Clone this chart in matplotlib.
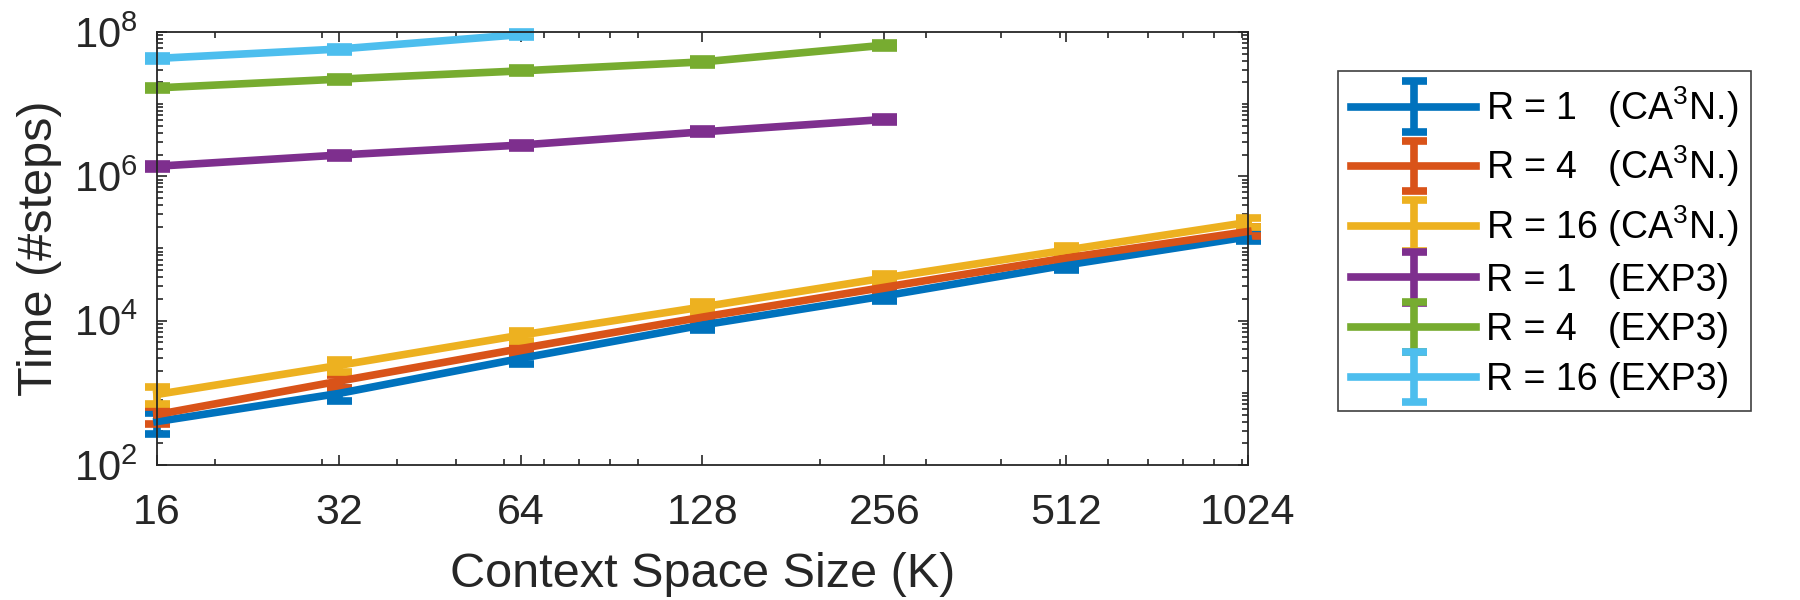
import numpy as np
import matplotlib as mpl
mpl.use("Agg")
import matplotlib.pyplot as plt
from matplotlib.legend_handler import HandlerErrorbar
from matplotlib.container import ErrorbarContainer
from matplotlib.ticker import FixedLocator, LogLocator, NullFormatter

plt.rcParams['font.family'] = ['Liberation Sans', 'DejaVu Sans']
plt.rcParams['mathtext.fontset'] = 'custom'
plt.rcParams['mathtext.rm'] = 'Liberation Sans'
plt.rcParams['mathtext.it'] = 'Liberation Sans:italic'

# context space size K
K = [16, 32, 64, 128, 256, 512, 1024]
K_exp3 = [16, 32, 64, 128, 256]
K_exp3_r16 = [16, 32, 64]

# CA3N. times
ca3n_r1 = [400, 980, 3.0e3, 8.7e3, 2.2e4, 5.9e4, 1.45e5]
ca3n_r4 = [500, 1.45e3, 4.1e3, 1.12e4, 2.9e4, 7.4e4, 1.72e5]
ca3n_r16 = [950, 2.4e3, 6.3e3, 1.55e4, 3.9e4, 9.5e4, 2.3e5]
ca3n_r1_err = [130, 200, 500, 1300, 3500, 9000, 2.0e4]
ca3n_r4_err = [130, 300, 700, 1800, 4500, 1.1e4, 2.5e4]
ca3n_r16_err = [250, 450, 1000, 2500, 6000, 1.4e4, 3.2e4]

# EXP3 times
exp3_r1 = [1.38e6, 1.97e6, 2.71e6, 4.13e6, 6.14e6]
exp3_r4 = [1.68e7, 2.22e7, 2.89e7, 3.85e7, 6.56e7]
exp3_r16 = [4.3e7, 5.8e7, 9.2e7]
exp3_r1_err = [1.2e5, 1.6e5, 2.2e5, 3.3e5, 5.0e5]
exp3_r4_err = [1.3e6, 1.8e6, 2.3e6, 3.1e6, 5.2e6]
exp3_r16_err = [3.4e6, 4.6e6, 7.0e6]

labels = ['R = 1   (CA$^3$N.)', 'R = 4   (CA$^3$N.)', 'R = 16 (CA$^3$N.)',
          'R = 1   (EXP3)', 'R = 4   (EXP3)', 'R = 16 (EXP3)']
colors = ['#0072BD', '#D95319', '#EDB120', '#7E2F8E', '#77AC30', '#4DBEEE']

series = [(K, ca3n_r1, ca3n_r1_err), (K, ca3n_r4, ca3n_r4_err), (K, ca3n_r16, ca3n_r16_err),
          (K_exp3, exp3_r1, exp3_r1_err), (K_exp3, exp3_r4, exp3_r4_err),
          (K_exp3_r16, exp3_r16, exp3_r16_err)]

fig = plt.figure(figsize=(18, 6), dpi=100)
ax = fig.add_axes([0.0872, 0.225, 0.6061, 0.7217])

handles = []
for (xs, ys, es), c in zip(series, colors):
  h = ax.errorbar(xs, ys, yerr=es, color=c, lw=5.5, elinewidth=5.5, capsize=9, capthick=5.5, clip_on=False)
  for art in h.lines[1] + h.lines[2]:
    art.set_clip_on(False)
  handles.append(h)

ax.set_xscale('log')
ax.set_yscale('log')
ax.set_xlim(16, 1024)
ax.set_ylim(1e2, 1e8)
ax.xaxis.set_major_locator(FixedLocator(K))
ax.set_xticklabels([str(k) for k in K])
ax.xaxis.set_minor_locator(LogLocator(base=10, subs=np.arange(1, 10), numticks=50))
ax.xaxis.set_minor_formatter(NullFormatter())
ax.yaxis.set_major_locator(FixedLocator([1e2, 1e4, 1e6, 1e8]))
ax.set_yticklabels(['$10^2$', '$10^4$', '$10^6$', '$10^8$'])
ax.yaxis.set_minor_locator(LogLocator(base=10, subs=np.arange(1, 10), numticks=50))
ax.yaxis.set_minor_formatter(NullFormatter())

axcol = '0.15'
for sp in ax.spines.values():
  sp.set_color(axcol)
  sp.set_linewidth(1.3)
ax.tick_params(which='both', direction='in', top=True, right=True, color=axcol, labelcolor=axcol, width=1.2)
ax.tick_params(which='major', length=7)
ax.tick_params(which='minor', length=4)
ax.tick_params(axis='x', which='major', labelsize=31, pad=20)
ax.tick_params(axis='y', which='major', labelsize=30, pad=14)

ax.set_xlabel('Context Space Size (K)', fontsize=35, color=axcol)
ax.set_ylabel('Time (#steps)', fontsize=35, color=axcol)
ax.xaxis.set_label_coords(0.5, -0.2)
ax.yaxis.set_label_coords(-0.087, 0.5)

leg = fig.legend(handles, labels, loc='upper left', bbox_to_anchor=(0.7433, 0.8817), borderaxespad=0,
                 fontsize=27, handlelength=3.33, handletextpad=0.27, borderpad=0.35, labelspacing=0.37,
                 frameon=True, fancybox=False, edgecolor='0.25', framealpha=1,
                 handler_map={ErrorbarContainer: HandlerErrorbar(yerr_size=0.67)})
leg.get_frame().set_linewidth(1.2)

plt.savefig('out.png', dpi=100)
